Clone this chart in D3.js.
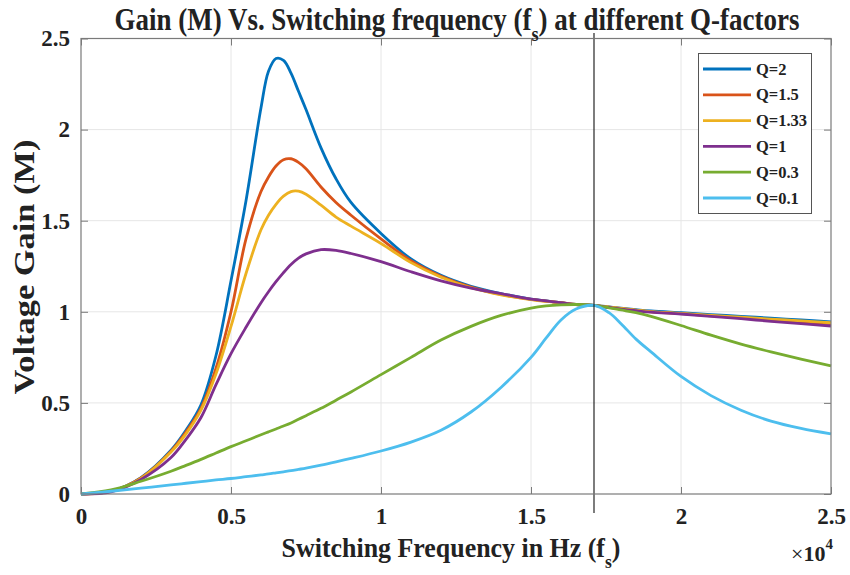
<!DOCTYPE html>
<html>
<head>
<meta charset="utf-8">
<script src="https://cdn.jsdelivr.net/npm/d3@7"></script>
<style>
  html, body { margin: 0; padding: 0; background: #fff; }
  svg { display: block; }
  text { font-family: "Liberation Serif", "Times New Roman", serif; font-weight: bold; fill: #222; }
</style>
</head>
<body>
<svg id="chart" width="850" height="575"></svg>
<script>
// ---- data (frequency in Hz, gain M) ----
const freqHz = [0, 1000, 2000, 3000, 3500, 4000, 4500, 5000, 5500, 6000, 6250, 6500, 6750, 7000, 7250, 7500,
  8000, 8500, 9000, 10000, 11000, 12000, 13000, 14000, 15000, 15500, 16000, 16500, 17100, 17600,
  18000, 18500, 19000, 20000, 21000, 22000, 23000, 24000, 25000];

const gainQ2 = [0, 0.015, 0.09, 0.24, 0.35, 0.49, 0.76, 1.17, 1.61, 2.12, 2.32, 2.39, 2.38, 2.31, 2.21, 2.11,
  1.90, 1.73, 1.60, 1.43, 1.29, 1.20, 1.14, 1.10, 1.07, 1.06, 1.05, 1.04, 1.035, 1.027,
  1.02, 1.012, 1.005, 0.995, 0.985, 0.975, 0.965, 0.955, 0.945];
const gainQ15 = [0, 0.015, 0.088, 0.235, 0.34, 0.47, 0.69, 1.0, 1.40, 1.66, 1.74, 1.80, 1.835, 1.84, 1.82, 1.785,
  1.685, 1.60, 1.53, 1.40, 1.28, 1.195, 1.135, 1.095, 1.068, 1.058, 1.05, 1.04, 1.035, 1.025,
  1.018, 1.008, 1.0, 0.99, 0.978, 0.967, 0.956, 0.945, 0.935];
const gainQ133 = [0, 0.014, 0.086, 0.23, 0.33, 0.46, 0.66, 0.92, 1.21, 1.45, 1.53, 1.59, 1.635, 1.66, 1.662, 1.645,
  1.585, 1.52, 1.47, 1.375, 1.27, 1.19, 1.132, 1.093, 1.067, 1.057, 1.049, 1.04, 1.035, 1.026,
  1.019, 1.009, 1.001, 0.991, 0.98, 0.97, 0.96, 0.95, 0.94];
const gainQ1 = [0, 0.012, 0.08, 0.2, 0.3, 0.42, 0.6, 0.77, 0.915, 1.05, 1.11, 1.165, 1.215, 1.26, 1.295, 1.318,
  1.341, 1.337, 1.32, 1.275, 1.22, 1.17, 1.13, 1.1, 1.07, 1.06, 1.05, 1.04, 1.035, 1.024,
  1.015, 1.006, 0.998, 0.988, 0.975, 0.962, 0.948, 0.935, 0.922];
const gainQ03 = [0, 0.022, 0.07, 0.125, 0.157, 0.19, 0.225, 0.26, 0.292, 0.325, 0.341, 0.357, 0.373, 0.39, 0.41, 0.43,
  0.47, 0.515, 0.56, 0.655, 0.75, 0.845, 0.92, 0.98, 1.02, 1.032, 1.038, 1.04, 1.035, 1.022,
  1.01, 0.995, 0.975, 0.925, 0.872, 0.823, 0.78, 0.74, 0.703];
const gainQ01 = [0, 0.015, 0.032, 0.05, 0.059, 0.068, 0.077, 0.085, 0.095, 0.105, 0.11, 0.116, 0.122, 0.128, 0.135, 0.142,
  0.158, 0.176, 0.195, 0.236, 0.285, 0.35, 0.45, 0.585, 0.75, 0.855, 0.955, 1.015, 1.035, 0.995,
  0.935, 0.85, 0.78, 0.645, 0.54, 0.46, 0.40, 0.36, 0.33];

const seriesNames = ["Q=2", "Q=1.5", "Q=1.33", "Q=1", "Q=0.3", "Q=0.1"];
const seriesGains = [gainQ2, gainQ15, gainQ133, gainQ1, gainQ03, gainQ01];
const seriesColors = ["#0072BD", "#D95319", "#EDB120", "#7E2F8E", "#77AC30", "#4DBEEE"];

const xTicks = [0, 5000, 10000, 15000, 20000, 25000];
const yTicks = [0, 0.5, 1, 1.5, 2, 2.5];
const resonantHz = 17100;

// ---- drawing ----
const svg = d3.select("#chart");
const m = { left: 81, right: 831, top: 38.5, bottom: 494 };

const x = d3.scaleLinear().domain([0, 25000]).range([m.left, m.right]);
const y = d3.scaleLinear().domain([0, 2.5]).range([m.bottom, m.top]);
const fmt = d => String(+(d / 1e4).toFixed(2));

// grid
const grid = svg.append("g");
grid.selectAll(".gx").data(xTicks.slice(1, -1)).join("line")
  .attr("x1", d => x(d)).attr("x2", d => x(d)).attr("y1", m.top).attr("y2", m.bottom)
  .attr("stroke", "#e6e6e6").attr("stroke-width", 1);
grid.selectAll(".gy").data(yTicks.slice(1, -1)).join("line")
  .attr("y1", d => y(d)).attr("y2", d => y(d)).attr("x1", m.left).attr("x2", m.right)
  .attr("stroke", "#e6e6e6").attr("stroke-width", 1);

// axes (ticks inward)
const axisColor = "#7a7a7a";
function styleAxis(g) {
  g.select(".domain").remove();
  g.selectAll(".tick line").attr("stroke", axisColor);
  g.selectAll(".tick text").style("font-size", "23px").attr("fill", "#222");
}
svg.append("g").attr("transform", `translate(0,${m.bottom})`)
  .call(d3.axisBottom(x).tickValues(xTicks).tickFormat(fmt).tickSizeInner(-7).tickSizeOuter(0).tickPadding(14))
  .call(styleAxis);
svg.append("g").attr("transform", `translate(0,${m.top})`)
  .call(d3.axisTop(x).tickValues(xTicks).tickFormat("").tickSizeInner(-7).tickSizeOuter(0))
  .call(styleAxis);
svg.append("g").attr("transform", `translate(${m.left},0)`)
  .call(d3.axisLeft(y).tickValues(yTicks).tickFormat(d => String(d)).tickSizeInner(-7).tickSizeOuter(0).tickPadding(11))
  .call(styleAxis);
svg.append("g").attr("transform", `translate(${m.right},0)`)
  .call(d3.axisRight(y).tickValues(yTicks).tickFormat("").tickSizeInner(-7).tickSizeOuter(0))
  .call(styleAxis);

// curves
const line = d3.line().x((d, i) => x(freqHz[i])).y(d => y(d)).curve(d3.curveCatmullRom.alpha(0.5));
svg.append("g").selectAll("path").data(seriesGains).join("path")
  .attr("d", d => line(d)).attr("fill", "none")
  .attr("stroke", (d, i) => seriesColors[i]).attr("stroke-width", 2.8)
  .attr("stroke-linejoin", "round");

// resonant frequency marker line
svg.append("line").attr("x1", x(resonantHz)).attr("x2", x(resonantHz))
  .attr("y1", 33).attr("y2", 513).attr("stroke", "#111").attr("stroke-width", 1.1);

// box
svg.append("rect").attr("x", m.left).attr("y", m.top)
  .attr("width", m.right - m.left).attr("height", m.bottom - m.top)
  .attr("fill", "none").attr("stroke", axisColor).attr("stroke-width", 1.2);

// legend
const lg = svg.append("g");
lg.append("rect").attr("x", 698.5).attr("y", 53.5).attr("width", 113).attr("height", 160)
  .attr("fill", "#fff").attr("stroke", "#555").attr("stroke-width", 1);
const rows = lg.selectAll("g.row").data(seriesNames).join("g")
  .attr("transform", (d, i) => `translate(0,${69 + i * 25.8})`);
rows.append("line").attr("x1", 703).attr("x2", 751).attr("y1", 0).attr("y2", 0)
  .attr("stroke", (d, i) => seriesColors[i]).attr("stroke-width", 2.8);
rows.append("text").attr("x", 756).attr("y", 5.5).style("font-size", "16.5px").text(d => d);

// helper: squeeze a text horizontally to a target width around its centre
function fitWidth(sel, cx, target) {
  const w = sel.node().getBBox().width;
  const s = target / w;
  sel.attr("transform", `translate(${cx},0) scale(${s},1) translate(${-cx},0)`);
}

// title
const title = svg.append("text").attr("x", 457).attr("y", 30).attr("text-anchor", "middle")
  .style("font-size", "31px");
title.append("tspan").text("Gain (M) Vs. Switching frequency (f");
title.append("tspan").attr("dy", 11).style("font-size", "21px").text("s");
title.append("tspan").attr("dy", -11).text(") at different Q-factors");
fitWidth(title, 457, 685);

// x label
const xl = svg.append("text").attr("x", 451).attr("y", 557).attr("text-anchor", "middle")
  .style("font-size", "28px");
xl.append("tspan").text("Switching Frequency in Hz (f");
xl.append("tspan").attr("dy", 11).style("font-size", "19px").text("s");
xl.append("tspan").attr("dy", -11).text(")");
fitWidth(xl, 451, 339);

// exponent
const ex = svg.append("text").attr("x", 791).attr("y", 561).style("font-size", "22px");
ex.append("tspan").style("font-weight", "normal").text("\u00d7");
ex.append("tspan").text("10");
ex.append("tspan").attr("dy", -12).style("font-size", "15px").text("4");

// y label
const yl = svg.append("text").attr("x", 0).attr("y", 0).attr("text-anchor", "middle")
  .style("font-size", "30px").text("Voltage Gain (M)");
const ylw = yl.node().getBBox().width;
yl.attr("transform", `translate(34,267) rotate(-90) scale(${255 / ylw},1)`);
</script>
</body>
</html>
